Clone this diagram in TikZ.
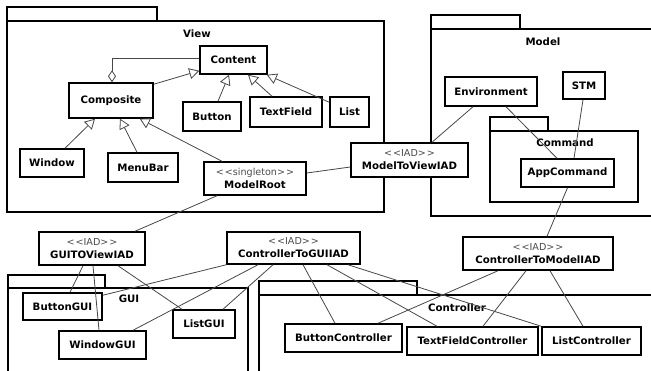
\documentclass[tikz,border=0pt]{standalone}
\usepackage{fontspec}
\setmainfont{DejaVu Sans}
\usetikzlibrary{arrows.meta}
\newcommand{\stereo}[1]{{\mdseries\color{black!70}\fontsize{9.6}{13}\selectfont <\kern1pt<#1>\kern1pt>}}
\tikzset{
  cls/.style={draw, rectangle, line width=1.5pt, fill=white, inner sep=0pt,
    font=\bfseries\fontsize{10.2}{13}\selectfont, align=center},
  pkg/.style={draw, line width=1.5pt, fill=white},
  pkglabel/.style={inner sep=0pt, font=\bfseries\fontsize{10.2}{13}\selectfont},
  conn/.style={draw=black!72, line width=0.8pt},
  gen/.style={conn, -{Triangle[open, length=10pt, width=11pt, fill=white]}},
  agg/.style={conn, -{Diamond[open, length=12pt, width=8pt, fill=white]}},
}
\begin{document}
\begin{tikzpicture}[x=1pt,y=-1pt]
\useasboundingbox (0,0) rectangle (651,370);
\clip (0,0) rectangle (651,370);
% packages
\draw[pkg] (7,7) rectangle (157,21);
\draw[pkg] (7,21) rectangle (384,212);
\node[pkglabel] (viewlbl) at (197,34) {View};
\draw[pkg] (431,15) rectangle (520,29);
\draw[pkg] (431,29) rectangle (660,216);
\node[pkglabel] (modellbl) at (543,42) {Model};
\draw[pkg] (490,117) rectangle (548,131);
\draw[pkg] (490,131) rectangle (638,202);
\node[pkglabel] (cmdlbl) at (565,143) {Command};
\draw[pkg] (8,275) rectangle (105,288);
\draw[pkg] (8,288) rectangle (248,380);
\node[pkglabel] (guilbl) at (129,299) {GUI};
\draw[pkg] (259,281) rectangle (417,295);
\draw[pkg] (259,295) rectangle (660,380);
\node[pkglabel] (ctrllbl) at (457,308) {Controller};
% classes
\node[cls, minimum width=67pt, minimum height=28pt] (content) at (233.5,60) {Content};
\node[cls, minimum width=84pt, minimum height=35pt] (composite) at (111,100.5) {Composite};
\node[cls, minimum width=58pt, minimum height=29pt] (button) at (212,116.5) {Button};
\node[cls, minimum width=72pt, minimum height=30pt] (textfield) at (286,112) {TextField};
\node[cls, minimum width=39pt, minimum height=30pt] (list) at (349.5,112) {List};
\node[cls, minimum width=64pt, minimum height=28pt] (window) at (52,163) {Window};
\node[cls, minimum width=70pt, minimum height=29pt] (menubar) at (143,167.5) {MenuBar};
\node[cls, minimum width=102pt, minimum height=33pt] (modelroot) at (255,178.5) {\stereo{singleton}\\ModelRoot};
\node[cls, minimum width=117pt, minimum height=34pt] (mtv) at (409.5,160) {\stereo{IAD}\\ModelToViewIAD};
\node[cls, minimum width=92pt, minimum height=29pt] (env) at (491,91.5) {Environment};
\node[cls, minimum width=42pt, minimum height=27pt] (stm) at (584,85.5) {STM};
\node[cls, minimum width=93pt, minimum height=28pt] (appcmd) at (567.5,173) {AppCommand};
\node[cls, minimum width=106pt, minimum height=33pt] (gtv) at (92,248.5) {\stereo{IAD}\\GUITOViewIAD};
\node[cls, minimum width=133pt, minimum height=32pt] (ctg) at (293.5,248) {\stereo{IAD}\\ControllerToGUIIAD};
\node[cls, minimum width=150pt, minimum height=33pt] (ctm) at (538,253.5) {\stereo{IAD}\\ControllerToModelIAD};
\node[cls, minimum width=79pt, minimum height=27pt] (buttongui) at (62.5,306.5) {ButtonGUI};
\node[cls, minimum width=87pt, minimum height=28pt] (windowgui) at (102.5,345) {WindowGUI};
\node[cls, minimum width=62pt, minimum height=28pt] (listgui) at (204,324) {ListGUI};
\node[cls, minimum width=117pt, minimum height=28pt] (bc) at (343.5,338) {ButtonController};
\node[cls, minimum width=131pt, minimum height=28pt] (tfc) at (472.5,341) {TextFieldController};
\node[cls, minimum width=99pt, minimum height=28pt] (lc) at (591.5,341) {ListController};
% View relations
\draw[agg] ([yshift=2pt]content.west) -| ([xshift=1pt]composite.north);
\draw[gen] ([yshift=-2pt]composite.north east) -- ([yshift=4pt]content.south west);
\draw[gen] ([xshift=6pt]button.north) -- ([xshift=-4.5pt]content.south);
\draw[gen] ([xshift=-14pt]textfield.north) -- ([xshift=14.5pt]content.south);
\draw[gen] ([yshift=-6pt]list.north west) -- ([xshift=-1pt]content.south east);
\draw[gen] ([xshift=13pt]window.north) -- ([xshift=-16pt]composite.south);
\draw[gen] ([xshift=-6pt]menubar.north) -- ([xshift=9pt]composite.south);
\draw[gen] ([xshift=-33pt]modelroot.north) -- ([xshift=-14pt]composite.south east);
% associations
\draw[conn] ([yshift=5.5pt]modelroot.east) -- ([yshift=-7pt]mtv.west);
\draw[conn] ([xshift=-38pt]modelroot.south) -- ([xshift=43pt]gtv.north);
\draw[conn] ([xshift=-18pt]env.south) -- ([xshift=22.5pt]mtv.north);
\draw[conn] ([xshift=15pt]env.south) -- ([xshift=-10.5pt]appcmd.north);
\draw[conn] ([xshift=-1pt]stm.south) -- ([xshift=6.5pt]appcmd.north);
\draw[conn] (appcmd.south) -- ([xshift=9pt]ctm.north);
\draw[conn] ([xshift=-9pt]gtv.south) -- ([xshift=7.5pt]buttongui.north);
\draw[conn] ([xshift=1pt]gtv.south) -- ([xshift=-3.5pt]windowgui.north);
\draw[conn] ([xshift=26pt]gtv.south) -- ([xshift=-22pt]listgui.north);
\draw[conn] (ctg.south west) -- ([yshift=-3pt]buttongui.north east);
\draw[conn] ([xshift=-35.5pt]ctg.south) -- ([xshift=30.5pt]windowgui.north);
\draw[conn] ([xshift=-20.5pt]ctg.south) -- ([xshift=19pt]listgui.north);
\draw[conn] ([xshift=9.5pt]ctg.south) -- ([xshift=-8.5pt]bc.north);
\draw[conn] ([xshift=33.5pt]ctg.south) -- ([xshift=-35.5pt]tfc.north);
\draw[conn] ([xshift=54.5pt]ctg.south) -- (lc.north west);
\draw[conn] ([xshift=-40pt]ctm.south) -- ([xshift=34.5pt]bc.north);
\draw[conn] ([xshift=-12pt]ctm.south) -- ([xshift=10.5pt]tfc.north);
\draw[conn] ([xshift=12pt]ctm.south) -- ([xshift=-8.5pt]lc.north);
\end{tikzpicture}
\end{document}
